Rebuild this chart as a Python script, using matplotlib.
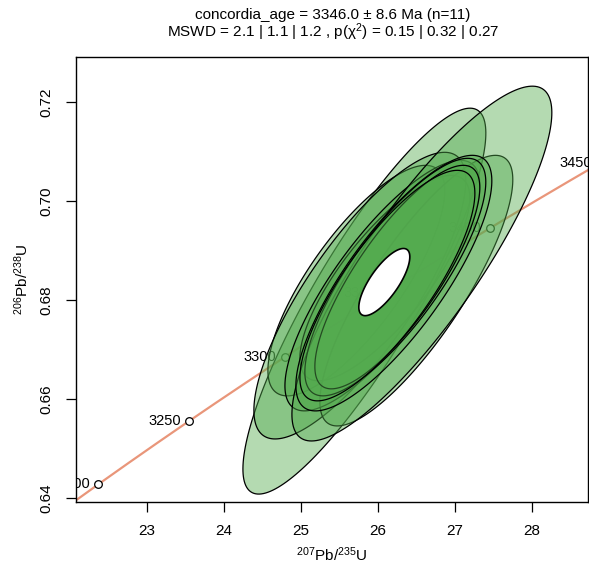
import numpy as np
import matplotlib.pyplot as plt
from matplotlib.patches import Polygon

plt.rcParams['font.family'] = ['Liberation Sans', 'DejaVu Sans']
plt.rcParams['mathtext.fontset'] = 'custom'
plt.rcParams['mathtext.rm'] = 'Liberation Sans'
plt.rcParams['mathtext.it'] = 'Liberation Sans'

# decay constants (1/Myr)
lam235 = 9.8485e-4
lam238 = 1.55125e-4

# analyses: 207Pb/235U, 206Pb/238U, 1-sigma errors, error correlation (drawing order)
x = [25.827, 25.723, 25.768, 26.093, 26.502, 26.061, 26.574, 26.210, 26.229, 26.255, 26.126]
y = [0.67980, 0.68395, 0.68091, 0.68446, 0.68192, 0.68294, 0.68739, 0.68344, 0.68466, 0.68466, 0.68294]
sx = [0.6447, 0.4696, 0.5624, 0.4510, 0.5120, 0.5173, 0.6898, 0.5200, 0.4802, 0.4377, 0.4643]
sy = [0.01593, 0.009516, 0.011832, 0.008481, 0.01117, 0.010343, 0.014646, 0.01055, 0.009805, 0.009226, 0.009516]
rho = [0.87, 0.78, 0.80, 0.78, 0.82, 0.80, 0.85, 0.80, 0.80, 0.80, 0.80]

# concordia age ellipse
cx, cy, csx, csy, crho = 26.086, 0.68365, 0.1353, 0.002772, 0.75

tick_ages = [3200, 3250, 3300, 3350, 3400, 3450]
xlim = (22.08, 28.73)
ylim = (0.6392, 0.7291)

k = np.sqrt(-2 * np.log(0.05))


def ellipse_xy(mx, my, ex, ey, r, n=200):
    cov = np.array([[ex**2, r * ex * ey], [r * ex * ey, ey**2]])
    w, v = np.linalg.eigh(cov)
    t = np.linspace(0, 2 * np.pi, n)
    pts = np.stack([np.cos(t), np.sin(t)])
    pts = v @ (np.sqrt(w)[:, None] * pts) * k
    return np.column_stack([pts[0] + mx, pts[1] + my])


fig = plt.figure(figsize=(5.89, 5.66), dpi=100)
ax = fig.add_axes([0.129, 0.113, 0.869, 0.786])

# concordia line
tmin = np.log(1 + xlim[0]) / lam235
tmax = np.log(1 + xlim[1]) / lam235
tt = np.linspace(tmin - 20, tmax + 20, 400)
ax.plot(np.exp(lam235 * tt) - 1, np.exp(lam238 * tt) - 1,
        color='#e9967a', lw=1.6, zorder=1)

for a in tick_ages:
    px = np.exp(lam235 * a) - 1
    py = np.exp(lam238 * a) - 1
    ax.plot(px, py, 'o', ms=5.5, mfc='white', mec='black', mew=0.9, zorder=2)
    ax.annotate(str(a), (px, py), xytext=(-6, 0), textcoords='offset points',
                ha='right', va='center', fontsize=10.5, zorder=2,
                annotation_clip=False, clip_on=True)

fill = (0.33, 0.67, 0.31, 0.44)
for i in range(len(x)):
    poly = Polygon(ellipse_xy(x[i], y[i], sx[i], sy[i], rho[i]), closed=True,
                   fc=fill, ec='black', lw=0.9, zorder=3 + i * 0.01)
    ax.add_patch(poly)

ax.add_patch(Polygon(ellipse_xy(cx, cy, csx, csy, crho), closed=True,
                     fc='white', ec='black', lw=1.2, zorder=4))

ax.set_xlim(*xlim)
ax.set_ylim(*ylim)
ax.set_xticks([23, 24, 25, 26, 27, 28])
ax.set_yticks([0.64, 0.66, 0.68, 0.70, 0.72])
ax.set_yticklabels(['0.64', '0.66', '0.68', '0.70', '0.72'], rotation=90, va='center')
ax.tick_params(direction='out', length=7, width=0.9, labelsize=11, pad=9)
for s in ax.spines.values():
    s.set_linewidth(1.0)

ax.set_xlabel(r'$^{207}$Pb/$^{235}$U', fontsize=11, labelpad=5)
ax.set_ylabel(r'$^{206}$Pb/$^{238}$U', fontsize=11, labelpad=6)

fig.text(0.565, 0.973, 'concordia_age = 3346.0 \u00b1 8.6 Ma (n=11)',
         ha='center', va='center', fontsize=11)
fig.text(0.565, 0.943, r'MSWD = 2.1 | 1.1 | 1.2 , p(χ$^2$) = 0.15 | 0.32 | 0.27',
         ha='center', va='center', fontsize=11)

fig.savefig('out.png', dpi=100)
